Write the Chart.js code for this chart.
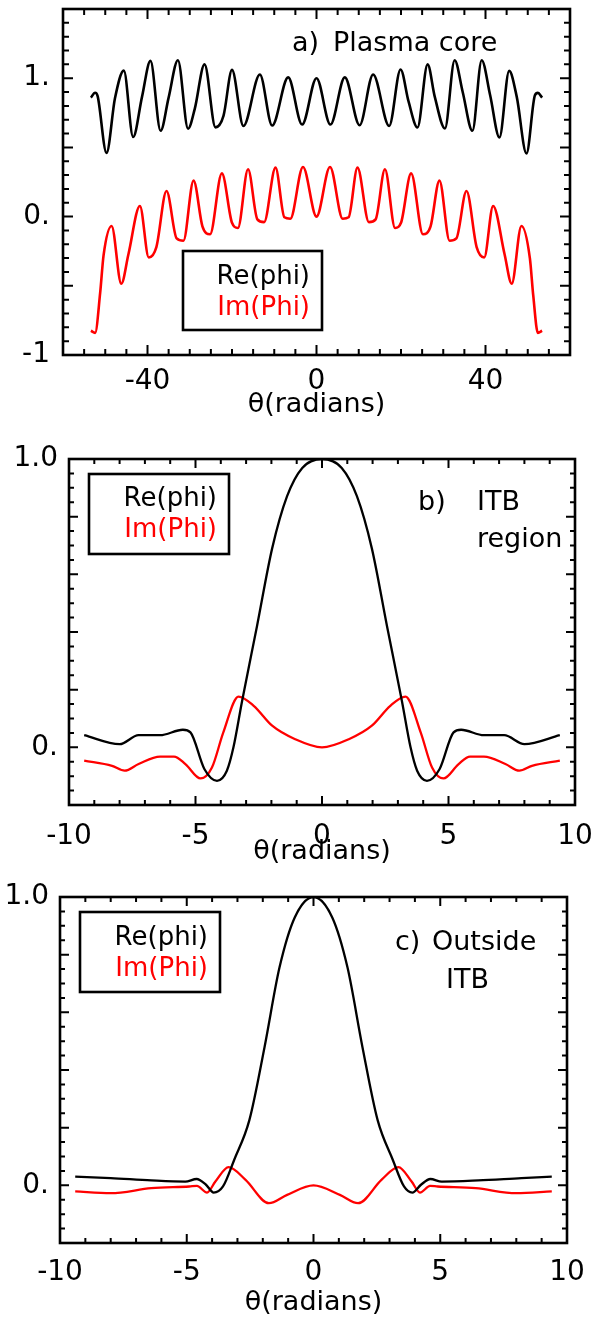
<!DOCTYPE html>
<html>
<head>
<meta charset="utf-8">
<script src="https://cdn.jsdelivr.net/npm/chart.js@4.4.1/dist/chart.umd.min.js"></script>
<style>
  html, body { margin: 0; padding: 0; background: #fff; }
  #wrap { position: relative; width: 592px; height: 1321px; }
  canvas { position: absolute; left: 0; }
</style>
</head>
<body>
<div id="wrap">
  <canvas id="core-canvas" width="592" height="440" style="top:0px"></canvas>
  <canvas id="itb-canvas" width="592" height="440" style="top:440px"></canvas>
  <canvas id="out-canvas" width="592" height="441" style="top:880px"></canvas>
</div>
<script>
// a) plasma core
var coreReX = [-53.4, -52.4, -51.8, -49.7, -47.7, -45.6, -43.4, -41.3, -39.3, -36.9, -35.0, -32.8, -30.4, -28.8, -26.5, -23.9, -22.0, -20.0, -17.3, -13.4, -10.5, -6.7, -3.4, 0,
               3.3, 6.7, 10.2, 13.4, 17.2, 19.9, 21.8, 23.9, 26.3, 28.0, 30.4, 32.7, 34.6, 36.9, 39.1, 41.1, 43.3, 45.6, 47.4, 49.7, 51.7, 52.4, 53.4];
var coreReY = [0.86, 0.895, 0.87, 0.46, 0.855, 1.055, 0.575, 0.865, 1.125, 0.62, 0.86, 1.13, 0.635, 0.78, 1.10, 0.645, 0.73, 1.06, 0.655, 1.027, 0.658, 1.006, 0.665, 1.0,
               0.665, 1.006, 0.66, 1.027, 0.655, 1.063, 0.83, 0.644, 1.10, 0.865, 0.637, 1.13, 0.90, 0.62, 1.13, 0.877, 0.572, 1.053, 0.865, 0.456, 0.877, 0.894, 0.86];
var coreImX = [-53.4, -52.4, -51.2, -50.4, -48.5, -46.2, -44.5, -41.8, -39.7, -37.9, -35.5, -33.1, -31.5, -29.1, -27.0, -25.2, -22.4, -20.0, -18.6, -16.2, -14.0, -12.4, -9.7, -7.6, -6.2, -3.2, 0,
               3.2, 6.2, 7.6, 9.7, 12.4, 14.0, 16.2, 18.6, 20.0, 22.4, 25.2, 27.0, 29.1, 31.5, 33.1, 35.5, 37.9, 39.7, 41.8, 44.5, 46.2, 48.5, 50.5, 51.3, 52.4, 53.4];
var coreImY = [-0.825, -0.84, -0.55, -0.28, -0.068, -0.485, -0.27, 0.077, -0.295, -0.22, 0.185, -0.158, -0.175, 0.26, -0.07, -0.128, 0.312, -0.045, -0.082, 0.342, -0.02, -0.04, 0.354, -0.005, -0.015, 0.358, 0.0,
               0.358, -0.015, -0.005, 0.354, -0.04, -0.02, 0.342, -0.082, -0.045, 0.312, -0.128, -0.07, 0.26, -0.175, -0.158, 0.185, -0.22, -0.295, 0.077, -0.27, -0.485, -0.068, -0.30, -0.57, -0.84, -0.825];
var coreXTicks = [-40, 0, 40];
var coreYTicks = [-1, 0, 1];
var coreYLabels = ['-1', '0.', '1.'];

// b) ITB region
var itbReX = [-9.4, -8.0, -7.25, -6.4, -5.5, -5.2, -4.65, -4.15, -3.76, -3.5, -3.16, -2.57, -1.97, -1.38, -0.78, 0,
              0.78, 1.38, 1.97, 2.57, 3.16, 3.5, 3.76, 4.15, 4.65, 5.2, 5.5, 6.4, 7.2, 8.0, 9.4];
var itbReY = [0.042, 0.011, 0.042, 0.042, 0.061, 0.052, -0.075, -0.116, -0.081, 0.0, 0.16, 0.42, 0.69, 0.871, 0.969, 1.0,
              0.969, 0.871, 0.69, 0.42, 0.16, 0.0, -0.081, -0.116, -0.075, 0.052, 0.061, 0.042, 0.042, 0.011, 0.042];
var itbImX = [-9.4, -8.3, -7.8, -7.25, -6.4, -5.85, -5.4, -4.8, -4.35, -3.9, -3.3, -2.7, -1.97, -1.08, 0,
              1.08, 1.97, 2.7, 3.3, 3.9, 4.35, 4.8, 5.4, 5.85, 6.4, 7.25, 7.8, 8.3, 9.4];
var itbImY = [-0.046, -0.064, -0.081, -0.058, -0.032, -0.032, -0.058, -0.108, -0.07, 0.052, 0.176, 0.144, 0.075, 0.029, 0,
              0.029, 0.075, 0.144, 0.176, 0.052, -0.07, -0.108, -0.058, -0.032, -0.032, -0.058, -0.081, -0.064, -0.046];

// c) outside ITB
var outReX = [-9.4, -8.0, -6.4, -5.06, -4.61, -4.24, -3.94, -3.57, -3.13, -2.53, -1.93, -1.34, -0.74, 0,
              0.74, 1.34, 1.93, 2.53, 3.13, 3.57, 3.9, 4.24, 4.61, 5.06, 6.5, 8.2, 9.4];
var outReY = [0.030, 0.025, 0.017, 0.013, 0.022, 0.002, -0.025, -0.004, 0.088, 0.226, 0.48, 0.756, 0.929, 1.0,
              0.929, 0.756, 0.48, 0.226, 0.088, -0.004, -0.025, 0.002, 0.022, 0.013, 0.017, 0.025, 0.030];
var outImX = [-9.4, -8.0, -6.4, -4.9, -4.6, -4.2, -3.87, -3.35, -2.68, -1.76, -1.04, 0,
              1.04, 1.76, 2.68, 3.35, 3.87, 4.2, 4.6, 4.9, 6.4, 8.0, 9.4];
var outImY = [-0.021, -0.027, -0.01, -0.004, -0.002, -0.025, 0.013, 0.063, 0.019, -0.062, -0.033, 0,
              -0.033, -0.062, 0.019, 0.063, 0.013, -0.025, -0.002, -0.004, -0.01, -0.027, -0.021];

var narrowXTicks = [-10, -5, 0, 5, 10];
var narrowYTicks = [0, 1];
var narrowYLabels = ['0.', '1.0'];

var seriesNames = ['Re(phi)', 'Im(Phi)'];
var xTitle = '\u03b8(radians)';

Chart.defaults.font.family = "'DejaVu Sans', sans-serif";
Chart.defaults.font.size = 28;
Chart.defaults.color = '#000';

function pts(xs, ys) {
    return xs.map(function(x, i) { return { x: x, y: ys[i] }; });
}

// box with inward ticks on all four sides, IDL style
var frameTicks = {
    id: 'frameTicks',
    afterDatasetsDraw: function(chart, args, opts) {
        var ctx = chart.ctx, a = chart.chartArea;
        var xs = chart.scales.x, ys = chart.scales.y;
        var i, n, v, p, len, major;
        ctx.save();
        ctx.strokeStyle = '#000';
        ctx.lineWidth = 2;
        ctx.beginPath();
        n = Math.round((xs.max - xs.min) / opts.xMinor);
        for (i = 1; i < n; i++) {
            v = xs.min + i * opts.xMinor;
            major = Math.abs(v / opts.xMajor - Math.round(v / opts.xMajor)) < 1e-6;
            len = major ? opts.majorLen : opts.minorLen;
            p = xs.getPixelForValue(v);
            ctx.moveTo(p, a.bottom); ctx.lineTo(p, a.bottom - len);
            ctx.moveTo(p, a.top); ctx.lineTo(p, a.top + len);
        }
        n = Math.round((ys.max - ys.min) / opts.yMinor);
        for (i = 1; i < n; i++) {
            v = ys.min + i * opts.yMinor;
            major = Math.abs(v / opts.yMajor - Math.round(v / opts.yMajor)) < 1e-6;
            len = major ? opts.majorLen : opts.minorLen;
            p = ys.getPixelForValue(v);
            ctx.moveTo(a.left, p); ctx.lineTo(a.left + len, p);
            ctx.moveTo(a.right, p); ctx.lineTo(a.right - len, p);
        }
        ctx.stroke();
        ctx.lineWidth = 2.6;
        ctx.strokeRect(a.left, a.top, a.right - a.left, a.bottom - a.top);
        ctx.restore();
    }
};

// panel label and the boxed legend
var notes = {
    id: 'notes',
    afterDraw: function(chart, args, opts) {
        var ctx = chart.ctx;
        ctx.save();
        ctx.textBaseline = 'alphabetic';
        ctx.font = "27px 'DejaVu Sans'";
        ctx.fillStyle = '#000';
        ctx.textAlign = 'left';
        opts.labels.forEach(function(t) { ctx.fillText(t[0], t[1], t[2]); });
        var b = opts.box;
        ctx.lineWidth = 2.6;
        ctx.strokeStyle = '#000';
        ctx.strokeRect(b[0], b[1], b[2] - b[0], b[3] - b[1]);
        ctx.font = "26px 'DejaVu Sans'";
        ctx.textAlign = 'right';
        ctx.fillStyle = '#000';
        ctx.fillText(seriesNames[0], b[2] - 12, opts.lines[0]);
        ctx.fillStyle = '#ff0000';
        ctx.fillText(seriesNames[1], b[2] - 12, opts.lines[1]);
        ctx.restore();
    }
};

function makeChart(id, cfg) {
    var ctx = document.getElementById(id).getContext('2d');
    return new Chart(ctx, {
        type: 'line',
        data: {
            datasets: [
                { label: seriesNames[0], data: pts(cfg.reX, cfg.reY), borderColor: '#000000', borderWidth: cfg.lw, pointRadius: 0, cubicInterpolationMode: 'monotone', fill: false },
                { label: seriesNames[1], data: pts(cfg.imX, cfg.imY), borderColor: '#ff0000', borderWidth: cfg.lw, pointRadius: 0, cubicInterpolationMode: 'monotone', fill: false }
            ]
        },
        options: {
            responsive: false,
            animation: false,
            devicePixelRatio: 1,
            layout: { padding: { left: 0, top: cfg.padTop, right: cfg.padRight, bottom: cfg.padBottom } },
            scales: {
                x: {
                    type: 'linear',
                    min: cfg.xMin, max: cfg.xMax,
                    grid: { display: false },
                    border: { display: false },
                    afterBuildTicks: function(scale) {
                        scale.ticks = cfg.xTicks.map(function(v) { return { value: v }; });
                    },
                    ticks: {
                        autoSkip: false, maxRotation: 0, padding: cfg.xTickPad,
                        callback: function(v) { return String(v); }
                    },
                    title: { display: true, text: xTitle, padding: 0, font: { size: 27 } },
                    afterFit: function(scale) {
                        scale.height = cfg.xAxisH;
                        scale.paddingLeft = 0; scale.paddingRight = 0;
                    }
                },
                y: {
                    type: 'linear',
                    min: cfg.yMin, max: cfg.yMax,
                    grid: { display: false },
                    border: { display: false },
                    afterBuildTicks: function(scale) {
                        scale.ticks = cfg.yTicks.map(function(v) { return { value: v }; });
                    },
                    ticks: {
                        autoSkip: false, padding: cfg.yTickPad,
                        callback: function(v) { return cfg.yLabels[cfg.yTicks.indexOf(v)]; }
                    },
                    afterFit: function(scale) {
                        scale.width = cfg.yAxisW;
                        scale.paddingTop = 0; scale.paddingBottom = 0;
                    }
                }
            },
            plugins: {
                legend: { display: false },
                tooltip: { enabled: false },
                frameTicks: cfg.frame,
                notes: cfg.notes
            }
        },
        plugins: [frameTicks, notes]
    });
}

makeChart('core-canvas', {
    reX: coreReX, reY: coreReY, imX: coreImX, imY: coreImY, lw: 2.6,
    xMin: -60, xMax: 60, yMin: -1, yMax: 1.5,
    xTicks: coreXTicks, yTicks: coreYTicks, yLabels: coreYLabels,
    padTop: 9, padRight: 22, padBottom: 19, xAxisH: 66, yAxisW: 63, xTickPad: 2, yTickPad: 5,
    frame: { xMinor: 5, xMajor: 40, yMinor: 0.1, yMajor: 0.5, majorLen: 10, minorLen: 6 },
    notes: { labels: [['a)', 292, 51], ['Plasma core', 333, 51]], box: [183, 251, 322, 330], lines: [284, 315] }
});

makeChart('itb-canvas', {
    reX: itbReX, reY: itbReY, imX: itbImX, imY: itbImY, lw: 2.3,
    xMin: -10, xMax: 10, yMin: -0.2, yMax: 1.0,
    xTicks: narrowXTicks, yTicks: narrowYTicks, yLabels: narrowYLabels,
    padTop: 19, padRight: 17, padBottom: 12, xAxisH: 63, yAxisW: 69, xTickPad: 7, yTickPad: 3,
    frame: { xMinor: 1, xMajor: 5, yMinor: 0.05, yMajor: 0.2, majorLen: 9, minorLen: 5 },
    notes: { labels: [['b)', 418, 70], ['ITB', 477, 70], ['region', 477, 107]], box: [89, 34, 229, 114], lines: [66, 97] }
});

makeChart('out-canvas', {
    reX: outReX, reY: outReY, imX: outImX, imY: outImY, lw: 2.3,
    xMin: -10, xMax: 10, yMin: -0.2, yMax: 1.0,
    xTicks: narrowXTicks, yTicks: narrowYTicks, yLabels: narrowYLabels,
    padTop: 17, padRight: 25, padBottom: 2, xAxisH: 76, yAxisW: 60, xTickPad: 5, yTickPad: 3,
    frame: { xMinor: 1, xMajor: 5, yMinor: 0.05, yMajor: 0.2, majorLen: 9, minorLen: 5 },
    notes: { labels: [['c)', 395, 70], ['Outside', 432, 70], ['ITB', 446, 108]], box: [80, 32, 220, 112], lines: [65, 96] }
});
</script>
</body>
</html>
